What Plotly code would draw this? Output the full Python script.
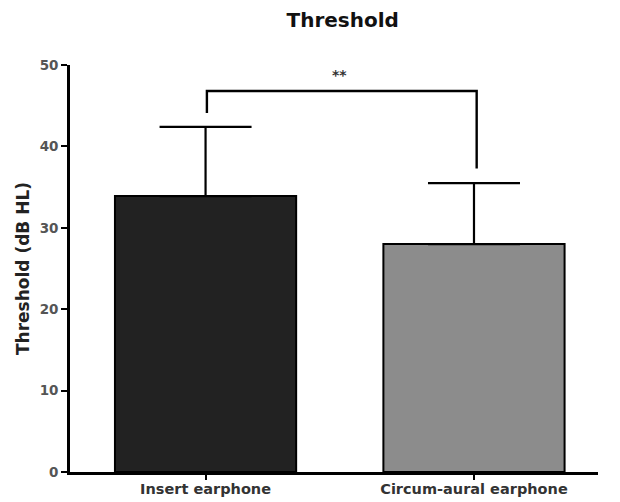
import plotly.graph_objects as go

categories = ["Insert earphone", "Circum-aural earphone"]
means = [33.9, 28.0]
sd_upper = [8.5, 7.5]
bar_colors = ["#222222", "#8c8c8c"]
bracket_levels = [44.1, 46.8, 37.3]
sig_label = "**"
y_ticks = [0, 10, 20, 30, 40, 50]

FONT = "DejaVu Sans"

fig = go.Figure()
fig.add_trace(go.Bar(
    x=[0, 1], y=means, width=[0.675, 0.675],
    marker=dict(color=bar_colors, line=dict(color="black", width=2)),
    error_y=dict(type="data", array=sd_upper, arrayminus=[0, 0], symmetric=False,
                 thickness=2.2, width=46, color="black"),
    showlegend=False,
))

# significance bracket
fig.add_trace(go.Scatter(
    x=[0.005, 0.005, 1.01, 1.01],
    y=[bracket_levels[0], bracket_levels[1], bracket_levels[1], bracket_levels[2]],
    mode="lines", line=dict(color="black", width=2.4), showlegend=False, hoverinfo="skip",
))
fig.add_annotation(x=0.5, y=bracket_levels[1] + 2.0, text="<b>" + sig_label + "</b>", showarrow=False,
                   font=dict(size=14, color="#333", family=FONT), yanchor="middle")

fig.update_layout(
    width=612, height=494,
    paper_bgcolor="white", plot_bgcolor="white",
    margin=dict(l=62, r=22, t=57, b=30, autoexpand=False),
    title=dict(text="<b>Threshold</b>", x=0.547, xanchor="center", y=0.975, yanchor="middle",
               font=dict(size=20, color="#111", family=FONT)),
    font=dict(family=FONT, color="#333"),
    xaxis=dict(range=[-0.505, 1.462], tickvals=[0, 1], automargin=False,
               ticktext=["<b>" + c + "</b>" for c in categories],
               showline=True, linecolor="black", linewidth=2.6, ticks="outside",
               ticklen=5, tickwidth=2, tickcolor="black", showgrid=False, zeroline=False,
               ticklabelstandoff=-3,
               tickfont=dict(size=14.5, color="#333", family=FONT)),
    yaxis=dict(range=[0, 50], tickvals=y_ticks, ticktext=["<b>%d</b>" % t for t in y_ticks],
               automargin=False,
               showline=True, linecolor="black", linewidth=2.6, ticks="outside",
               ticklen=6, tickwidth=2, tickcolor="black", showgrid=False, zeroline=False,
               tickfont=dict(size=13.5, color="#555", family=FONT),
               title=dict(text="<b>Threshold (dB HL)</b>", font=dict(size=17, color="#222", family=FONT),
                          standoff=6)),
)

fig.write_html("out.html")
